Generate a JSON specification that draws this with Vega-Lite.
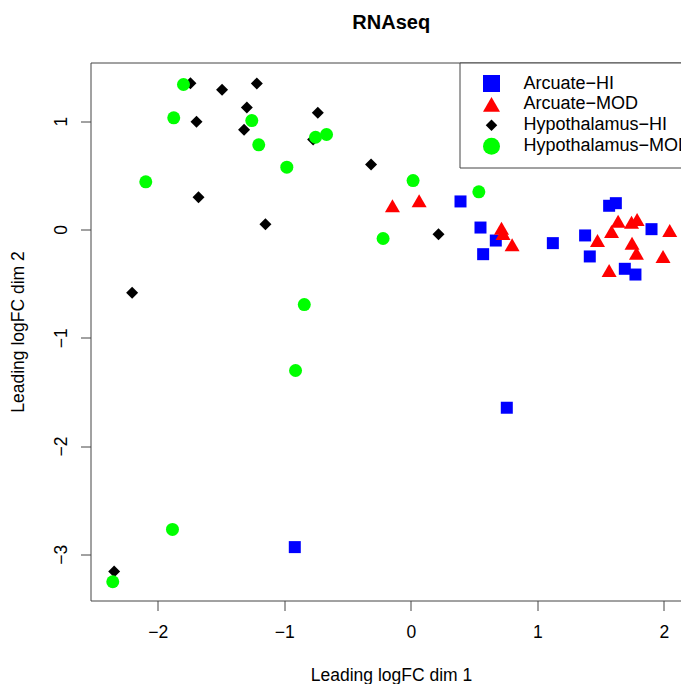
{
  "$schema": "https://vega.github.io/schema/vega-lite/v6.json",
  "autosize": {"type": "none"},
  "padding": {"left": 90.5, "top": 62.5, "right": -1, "bottom": 83},
  "width": 591.5,
  "height": 538,
  "title": {"text": "RNAseq", "fontSize": 20, "fontWeight": "bold", "font": "Liberation Sans", "color": "black", "anchor": "middle", "frame": "group", "baseline": "alphabetic", "offset": 13, "dx": 5},
  "config": {
    "font": "Liberation Sans",
    "view": {"stroke": "#444", "strokeWidth": 1},
    "axis": {"grid": false, "domain": false, "tickColor": "#444", "tickSize": 10, "tickWidth": 1, "labelFontSize": 17.5, "titleFontSize": 17.5, "titleFontWeight": "normal", "labelColor": "black", "titleColor": "black", "labelFont": "Liberation Sans", "titleFont": "Liberation Sans"}
  },
  "data": {"values": [
    {"group": "Arcuate−HI", "x": 0.393, "y": 0.259},
    {"group": "Arcuate−HI", "x": 0.551, "y": 0.018},
    {"group": "Arcuate−HI", "x": 0.672, "y": -0.102},
    {"group": "Arcuate−HI", "x": 0.572, "y": -0.228},
    {"group": "Arcuate−HI", "x": 1.123, "y": -0.126},
    {"group": "Arcuate−HI", "x": 1.568, "y": 0.219},
    {"group": "Arcuate−HI", "x": 1.621, "y": 0.243},
    {"group": "Arcuate−HI", "x": 1.903, "y": 0.003},
    {"group": "Arcuate−HI", "x": 1.378, "y": -0.055},
    {"group": "Arcuate−HI", "x": 1.415, "y": -0.249},
    {"group": "Arcuate−HI", "x": 1.692, "y": -0.363},
    {"group": "Arcuate−HI", "x": 1.776, "y": -0.416},
    {"group": "Arcuate−HI", "x": 0.759, "y": -1.646},
    {"group": "Arcuate−HI", "x": -0.917, "y": -2.933},
    {"group": "Arcuate−MOD", "x": -0.145, "y": 0.219},
    {"group": "Arcuate−MOD", "x": 0.066, "y": 0.265},
    {"group": "Arcuate−MOD", "x": 0.717, "y": 0.012},
    {"group": "Arcuate−MOD", "x": 0.729, "y": -0.037},
    {"group": "Arcuate−MOD", "x": 0.801, "y": -0.141},
    {"group": "Arcuate−MOD", "x": 1.639, "y": 0.077},
    {"group": "Arcuate−MOD", "x": 1.745, "y": 0.067},
    {"group": "Arcuate−MOD", "x": 1.789, "y": 0.092},
    {"group": "Arcuate−MOD", "x": 1.587, "y": -0.018},
    {"group": "Arcuate−MOD", "x": 2.047, "y": -0.009},
    {"group": "Arcuate−MOD", "x": 1.476, "y": -0.102},
    {"group": "Arcuate−MOD", "x": 1.749, "y": -0.126},
    {"group": "Arcuate−MOD", "x": 1.784, "y": -0.219},
    {"group": "Arcuate−MOD", "x": 1.994, "y": -0.249},
    {"group": "Arcuate−MOD", "x": 1.568, "y": -0.379},
    {"group": "Hypothalamus−HI", "x": -1.742, "y": 1.351},
    {"group": "Hypothalamus−HI", "x": -1.492, "y": 1.290},
    {"group": "Hypothalamus−HI", "x": -1.217, "y": 1.348},
    {"group": "Hypothalamus−HI", "x": -1.296, "y": 1.127},
    {"group": "Hypothalamus−HI", "x": -0.735, "y": 1.078},
    {"group": "Hypothalamus−HI", "x": -1.694, "y": 0.994},
    {"group": "Hypothalamus−HI", "x": -1.318, "y": 0.921},
    {"group": "Hypothalamus−HI", "x": -0.772, "y": 0.831},
    {"group": "Hypothalamus−HI", "x": -0.314, "y": 0.600},
    {"group": "Hypothalamus−HI", "x": -1.678, "y": 0.298},
    {"group": "Hypothalamus−HI", "x": -1.149, "y": 0.049},
    {"group": "Hypothalamus−HI", "x": 0.219, "y": -0.043},
    {"group": "Hypothalamus−HI", "x": -2.203, "y": -0.584},
    {"group": "Hypothalamus−HI", "x": -2.345, "y": -3.158},
    {"group": "Hypothalamus−MOD", "x": -1.797, "y": 1.339},
    {"group": "Hypothalamus−MOD", "x": -1.874, "y": 1.031},
    {"group": "Hypothalamus−MOD", "x": -1.257, "y": 1.006},
    {"group": "Hypothalamus−MOD", "x": -0.753, "y": 0.852},
    {"group": "Hypothalamus−MOD", "x": -0.666, "y": 0.877},
    {"group": "Hypothalamus−MOD", "x": -1.202, "y": 0.782},
    {"group": "Hypothalamus−MOD", "x": -0.980, "y": 0.575},
    {"group": "Hypothalamus−MOD", "x": -2.095, "y": 0.440},
    {"group": "Hypothalamus−MOD", "x": 0.018, "y": 0.452},
    {"group": "Hypothalamus−MOD", "x": 0.538, "y": 0.348},
    {"group": "Hypothalamus−MOD", "x": -0.219, "y": -0.083},
    {"group": "Hypothalamus−MOD", "x": -0.842, "y": -0.693},
    {"group": "Hypothalamus−MOD", "x": -0.911, "y": -1.302},
    {"group": "Hypothalamus−MOD", "x": -1.884, "y": -2.770},
    {"group": "Hypothalamus−MOD", "x": -2.356, "y": -3.253}
  ]},
  "mark": {"type": "point", "filled": true, "opacity": 1, "strokeWidth": 0},
  "encoding": {
    "x": {"field": "x", "type": "quantitative", "scale": {"domain": [-2.532, 2.144], "nice": false, "zero": false},
      "axis": {"values": [-2, -1, 0, 1, 2], "title": "Leading logFC dim 1", "labelBaseline": "alphabetic", "labelPadding": 27, "titleBaseline": "alphabetic", "titleX": 300.5, "titleY": 80, "titleAnchor": "middle"}},
    "y": {"field": "y", "type": "quantitative", "scale": {"domain": [-3.426, 1.542], "nice": false, "zero": false},
      "axis": {"values": [-3, -2, -1, 0, 1], "title": "Leading logFC dim 2", "labelAngle": 270, "labelAlign": "center", "labelBaseline": "alphabetic", "labelPadding": 14, "titleAngle": 270, "titleBaseline": "alphabetic", "titleX": -67, "titleAnchor": "middle"}},
    "color": {"field": "group", "type": "nominal",
      "scale": {"domain": ["Arcuate−HI", "Arcuate−MOD", "Hypothalamus−HI", "Hypothalamus−MOD"], "range": ["#0000FF", "#FF0000", "#000000", "#00FF00"]},
      "legend": {"title": null, "orient": "none", "legendX": 369, "legendY": 0, "strokeColor": "#444", "fillColor": "white", "padding": 12, "symbolOffset": 11, "labelOffset": 23, "rowPadding": 2.9, "symbolSize": 289, "symbolStrokeWidth": 0, "labelFontSize": 18, "labelColor": "black", "labelFont": "Liberation Sans", "labelLimit": 400, "symbolOpacity": 1}},
    "shape": {"field": "group", "type": "nominal",
      "scale": {"domain": ["Arcuate−HI", "Arcuate−MOD", "Hypothalamus−HI", "Hypothalamus−MOD"], "range": ["square", "triangle-up", "M0,-0.68L0.68,0L0,0.68L-0.68,0Z", "circle"]},
      "legend": {"title": null, "orient": "none", "legendX": 369, "legendY": 0, "strokeColor": "#444", "fillColor": "white", "padding": 12, "symbolOffset": 11, "labelOffset": 23, "rowPadding": 2.9, "symbolSize": 289, "symbolStrokeWidth": 0, "labelFontSize": 18, "labelColor": "black", "labelFont": "Liberation Sans", "labelLimit": 400, "symbolOpacity": 1}},
    "size": {
      "condition": [
        {"test": "datum.group === 'Arcuate−HI'", "value": 144},
        {"test": "datum.group === 'Arcuate−MOD'", "value": 225},
        {"test": "datum.group === 'Hypothalamus−HI'", "value": 310}
      ],
      "value": 169}
  }
}
